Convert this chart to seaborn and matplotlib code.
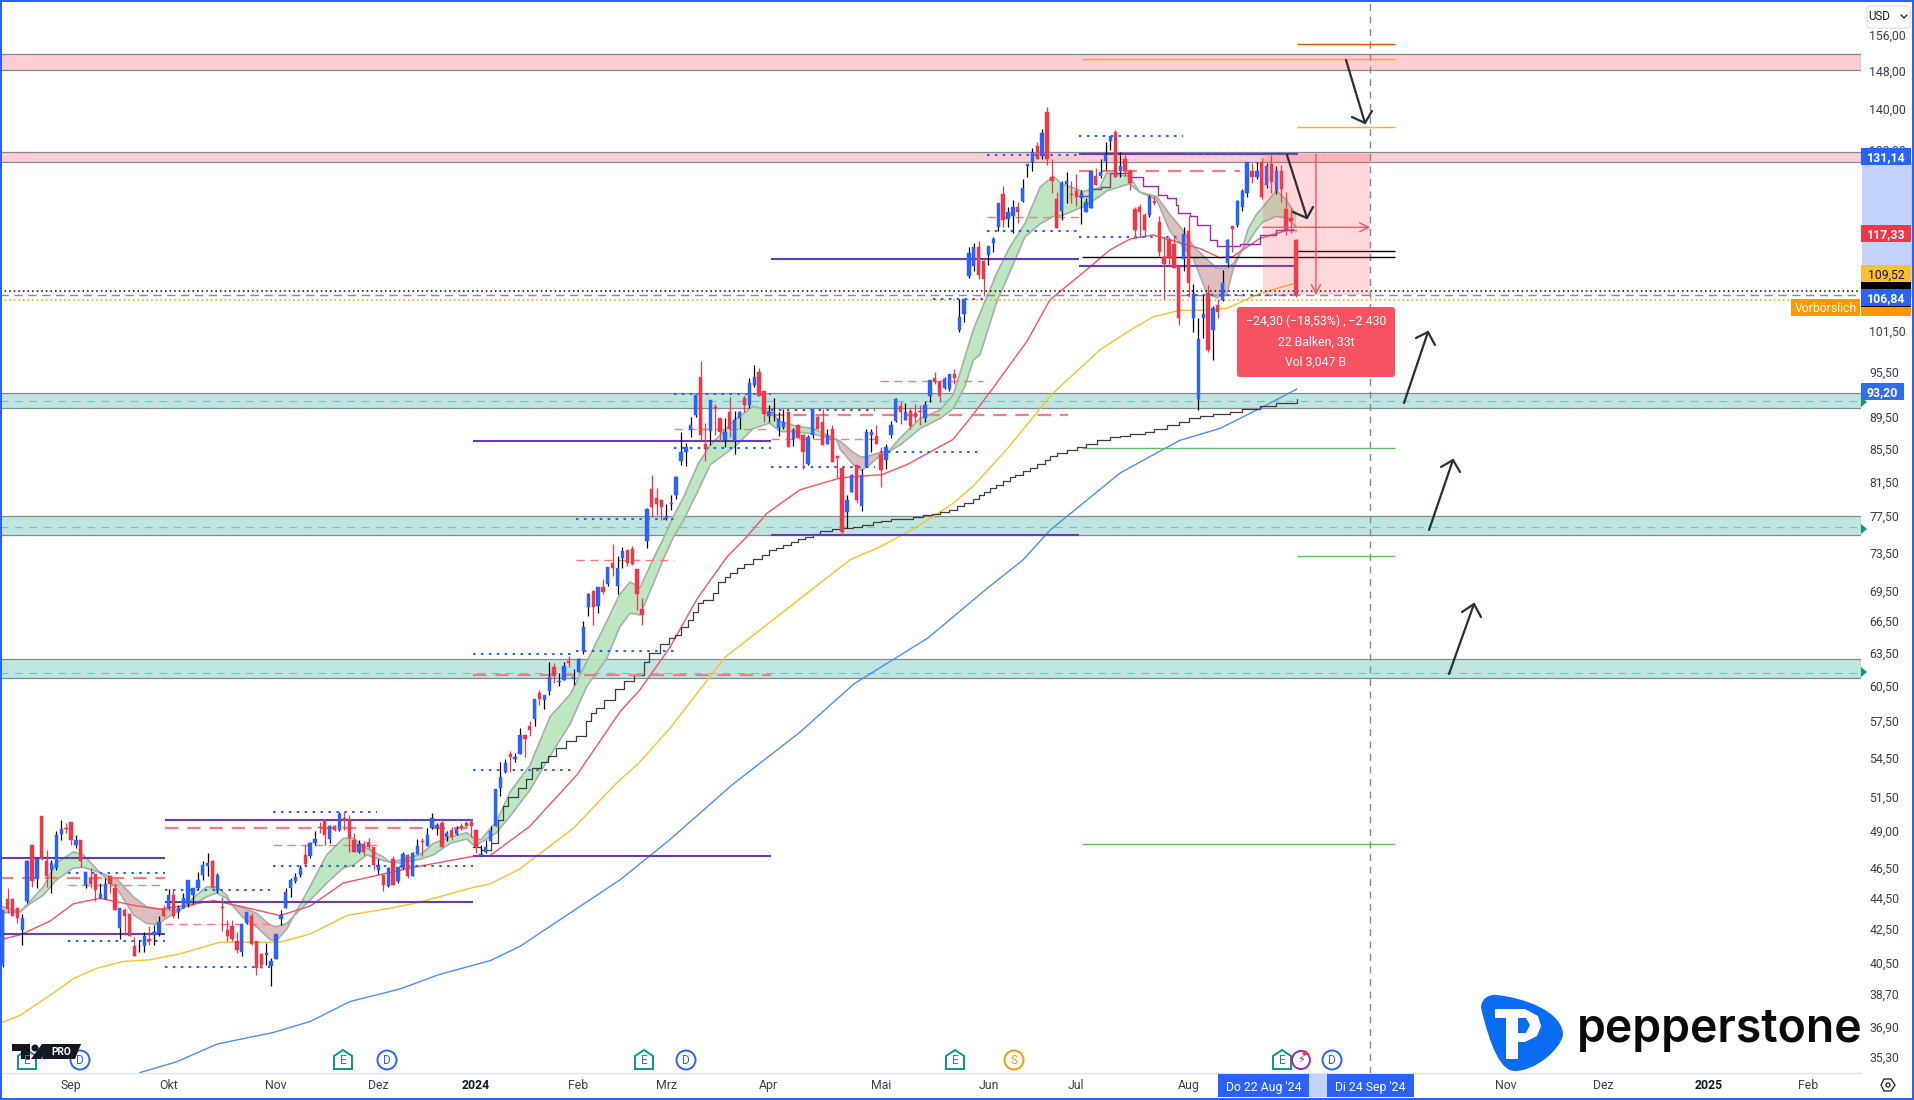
import numpy as np
import pandas as pd
import seaborn as sns
import matplotlib
matplotlib.use('Agg')
import matplotlib.pyplot as plt
from matplotlib.patches import Polygon, Circle, Rectangle, FancyBboxPatch, PathPatch
from matplotlib.path import Path

# candles, one value per trading day
opens = [40.35,44.4,44.4,43.85,42.45,44.3,48.05,45.7,50.1,46.9,
    46.3,46.45,48.8,49.2,49.65,48.05,48.35,45.3,45.75,46.05,
    44.5,44.4,45.9,45.15,42.6,43.7,43.45,41.45,41.45,41.45,
    41.9,42.15,42.25,43.75,43.8,44.65,43.55,43.85,44.1,44.65,
    45.1,46,46.6,46.9,44.9,43.9,42.45,42.7,41.8,41.1,
    42.9,43.3,41.75,41,40.95,40.3,40.7,43.15,43.8,45.1,
    45.55,45.95,47.35,47.3,48.15,49.3,49.8,48.45,49.4,49.1,
    49.95,49.8,48.35,47.55,48.1,48.25,47.9,46.3,45.95,45.25,
    47.05,45.55,46.45,47.35,45.9,47.4,48.3,47.95,49.2,49.25,
    49.6,48.6,49.1,48.8,49.35,49.6,49.7,49.1,47.3,47.55,
    48.3,49.35,52.2,53.4,54.8,54.45,54.8,56.4,57.1,57.7,
    59.9,59.3,60.1,62.2,60.9,61.05,62.8,61.2,61.8,63.7,
    67.9,69.5,68,69.9,70.2,72.4,70,72.9,73.7,73.9,
    71.7,67.7,74.75,80.6,79.5,79.3,77.3,78.9,79.9,83.9,
    85,87.75,89.75,94.9,86.1,87.7,90.75,89.3,86.6,90.2,
    86.4,89.4,92,91.1,93.7,95.5,92.9,89.6,90,88.1,
    88.2,90.2,86.7,88.5,87.2,83.6,87.2,89.5,88.9,86.1,
    88,84.6,83.1,77.9,80.2,83.4,78.6,83.2,87.2,87.1,
    84.8,84.1,87.2,89,90.9,89.1,90.3,90,90.3,89.4,
    92.2,94.7,94.2,93.3,93.2,95.3,101.6,104,109.9,111.4,
    114.5,112.3,113.2,115.2,118,123.8,119.3,119.9,121.4,122.5,
    128.9,129.6,132.7,130.7,139.4,126.8,122.8,120.8,125.6,123.8,
    124.3,123.1,120.6,121.2,127,127,129.9,133.6,135.4,127.9,
    130.2,128,121.1,121.4,120,120,122.5,118.8,112.9,115.9,
    115.1,111.5,112.6,117.3,103.4,91.8,103.4,107.2,101.6,105.3,
    106.1,111.9,118.2,118.3,121.5,123.9,128,126.9,129.6,125.4,
    129.2,124.5,127.9,121.1,119.5,115.8]
highs = [43.7,45.1,44.5,43.9,43.45,47,48.05,47.1,50.1,47.7,
    47,49,49.8,49.6,49.65,48.75,48.35,46.2,46.45,46.05,
    45.45,45.75,45.9,45.45,43.8,43.8,43.5,42,41.85,42.35,
    42.7,42.75,43.35,44,45.05,45,44,44.8,45.65,45.15,
    46.15,46.9,47.45,47,46.1,44.55,43.1,43.1,42.35,42.85,
    43.6,43.5,41.75,41.05,41.65,40.75,42.2,43.7,45.15,45.75,
    46.1,46.65,48.05,48.25,49,49.7,49.8,49.45,49.45,50.4,
    50.4,50.2,48.85,48.35,48.3,48.55,47.9,47.05,46,46.5,
    47.25,46.5,47.55,47.4,47.55,48.45,48.5,49.2,50.3,49.6,
    49.85,49,49.3,49.4,49.6,49.75,49.85,49.15,48.05,48.4,
    49.35,52.1,54.2,54.4,55.1,54.9,56.9,56.4,57.5,59.4,
    60.2,59.75,62.66,62.6,61.7,62.7,63.2,62,63,66.5,
    69.3,69.6,69.9,70.7,72,74.4,73.1,74.1,73.8,74.2,
    71.7,68.8,78.4,82.2,80.7,79.4,78.9,79.9,82.1,87.5,
    86.15,89.55,92.5,97.1,88.7,91.7,91.15,89.3,89.3,92.1,
    90.3,90.3,92.4,94.7,96.5,96.1,92.9,91.1,92,90.1,
    90.5,90.3,88.1,88.6,87.3,87.2,90.5,89.7,90.5,88,
    88.4,84.6,83.1,79.9,82.4,83.5,83,88,87.9,88.5,
    85.7,86.1,89,92,91.6,91.3,90.6,91.2,91.1,91.6,
    94.5,95.5,94.5,94.9,95.2,95.9,106.2,106.2,114.5,115.2,
    115.6,112.4,114.8,116.3,122.2,125.2,121.5,122.7,122.4,126.5,
    129.3,132.4,133.4,136,140.4,130.2,124.2,126.2,127.8,126.2,
    127.4,124.5,123.1,128,128.5,130.3,133.4,134.6,135.8,131.6,
    130.9,128.4,121.4,122,120.3,123.6,123.4,119.8,116.5,116.3,
    116.6,111.6,118,119.8,108.6,103.3,106.9,108.4,105.2,106.2,
    110.8,115.9,118.2,122.7,124.6,129.6,129.4,129.7,130.4,129.4,
    131,128.9,129,124.2,121.2,116]
lows = [40.25,43.5,43.3,42.9,41.55,44.15,45.2,45.1,47,45.2,
    44.8,46.3,48.35,48.85,48.05,47.8,46.5,45.1,45.15,44.25,
    44.45,44.4,44.8,43.7,41.9,42.15,42.1,40.85,41.1,41.1,
    41.55,41.55,42.05,43.25,43.75,43.2,43.2,43.8,43.9,44.1,
    45.05,45.65,45.9,45.1,44.8,42.4,41.75,41.75,41.05,40.85,
    42.85,41.55,39.75,40.15,40.35,39.15,40.7,42.75,43.8,44.55,
    45.45,45.85,46.65,47.1,48.05,48.85,48.05,48.15,49,49,
    49.1,47.55,47.55,47.5,47.35,47.75,46.3,46.05,44.9,45.2,
    45.3,45.45,46.4,45.75,45.9,47.4,47.3,47.95,49.15,48.75,
    47.9,48.3,48.35,48.75,49.1,49.3,48.6,47.5,47.3,47.45,
    48.25,49.35,51.6,53.35,53.4,54.2,54.8,54.6,56.3,57.1,
    58.9,58.5,59.75,60.8,60.5,61.05,62.2,60.6,61.75,63.4,
    67,66.15,67.3,69.2,70,71,69.2,71.8,72.1,72.2,
    67.6,66.1,74,77.4,77.6,77,77,78.2,79.4,83.5,
    83.3,86.9,89.45,86.6,84,85.9,87.2,86.4,85.7,86.9,
    84.8,88,90.2,90.6,93.5,92.2,88.9,88.9,89,87,
    88,85.7,85.8,86.8,83,83.4,86.8,87.9,85.9,86,
    83.8,81.9,75.4,76.1,80.2,79,78.1,83.2,85.1,86.1,
    80.8,83,86.8,88.9,88.6,89.1,88,88.9,88.5,88.9,
    91.4,93.9,91.5,93.2,93,93.9,101.3,102.8,109.6,110.7,
    109.3,106.7,111.6,113.8,117.2,118,117.9,116.9,118.6,122.4,
    126.9,128,130.3,130.3,129.1,124,117.7,119.1,122.2,122.1,
    121.6,118.5,120.6,121.2,125.4,126.6,128.2,132,126.8,126.9,
    127,124.4,116.3,116.3,116.3,119.6,121.8,113.1,106.2,111.3,
    111.1,102.3,110.7,106.6,101.2,90.4,100.4,98.4,97.2,103.3,
    106,111.3,113.8,118,120.8,123.2,125.7,126.4,122.9,124.8,
    124,123.7,122.4,116.6,117,106.5]
closes = [43.7,43.75,43.35,43.2,43.2,46.9,45.55,47.05,47.05,45.9,
    46.8,48.7,49.15,49.15,48.35,48.4,46.9,46.15,45.4,45,
    44.75,45.4,45.4,43.7,43.8,43.35,42.1,40.85,41.5,42.05,
    41.75,42.3,42.95,43.3,44.65,43.35,43.85,44.5,45.65,45.1,
    45.65,46.65,46.8,45.15,46,43.85,42.05,41.9,41.25,42.85,
    43.55,41.6,40.15,40.35,41.05,40.6,42.2,43.4,44.85,45.65,
    45.85,46.45,46.7,48.15,48.45,49.2,48.7,49.35,49.1,50.25,
    49.8,48.5,47.55,48.1,47.55,47.9,46.65,46.65,45.3,46.45,
    45.3,46.5,47.4,45.9,47.5,47.95,48.25,48.75,49.95,49.45,
    47.9,48.9,48.6,49.15,49.2,49.35,49.35,47.9,47.4,47.9,
    49,52.1,53.05,54.15,54.6,54.55,56.4,56,56.8,59.4,
    59.4,59.75,61.3,61.4,61,62.3,62.6,61.35,62.9,65.9,
    69.2,67.9,69.9,69.35,72,71.9,71.9,73.6,72.4,72.3,
    69.2,67.1,78.3,78.5,78.8,78.5,77.5,79,82,85.1,
    85.65,88.5,92.4,87.2,85.4,91.7,90.5,87.6,87.5,88,
    89.1,90.2,91.1,94,94.8,92.2,89.9,90.2,90.2,89.2,
    88.8,85.7,87.8,86.8,85.1,86.9,90.5,88,85.9,87.2,
    83.8,84.3,75.75,79.3,82.2,79.3,82.2,87.5,87.6,86.1,
    82.8,85.7,88.4,91.9,90.2,90.2,88.3,89.5,90.2,91.1,
    94.4,94.1,92.2,94.6,95.2,94.7,103.5,106.2,113.5,114.5,
    110,109.3,114.8,116,122.1,119.1,120.5,121.4,120.5,124.8,
    129.3,131.6,130.3,135.2,130.3,126.2,117.7,125.7,126.1,123.6,
    123.2,123.9,122.3,127.9,125.4,127.7,131,134.6,126.8,128.9,
    127.9,125.8,117.5,120.6,117.5,123.2,122.2,113.7,111.8,112.7,
    111.1,103.4,116.7,108.8,107,100.3,104,98.6,104.8,104.3,
    108.7,115.8,117.6,122.5,124.3,129.6,126.8,128,123.2,128.9,
    126,128,124.6,117.4,119,106.84]

# moving averages, read at a few bars
red_x = [-0.5,3.6,9.7,14.5,19.9,26.8,32.2,37.7,43.2,48.6,56.8,63,69.8,76.6,84.2,96.4,99.9,108,117.7,126.5,130.6,136.7,142.3,148.4,152.5,156.6,163.4,171.6,180.2,185.3,194.7,198.8,202.9,209.9,214.6,222.2,226.9,231,235.7,241.2,245.4,249.4,252.1,257.6,263.2,265.2]
red_y = [41.85,42.15,43,44.1,44.45,44,43.75,44,44.3,43.95,43.35,43.95,45.45,45.95,46.5,47.25,47.3,49.35,53.2,58.3,60.2,64,68.7,73,75.2,77.8,80.5,81.9,82.3,83.5,86.6,89.75,93.3,99.9,106.1,110.9,114.1,115.9,116.6,115.3,114.3,112.8,113,116,117.4,117.33]
orange_x = [-0.5,3.6,9.7,14.5,19.3,24.7,30.2,36.3,44.5,56.8,63,70.5,80,84.8,96.4,99.9,106,108,116.9,125.9,130.6,136.7,148,173.6,179.8,187.4,194.7,198.8,205.8,215,224.9,231,235.7,241.2,246.8,250.9,257.6,264.4,265.2]
orange_y = [37.07,37.5,38.6,39.55,40.15,40.55,40.65,41,41.7,41.7,42.2,43.35,43.85,44.15,45.15,45.4,46.4,46.9,49.2,52.6,54.2,56.9,63.1,72.7,74.1,76.3,78.9,80.9,85.4,92.5,98.7,101.5,103.5,104.5,104.5,104.8,107.1,108.6,108.8]
blue_x = [28.1,35.7,43.9,55.4,63,71.2,81.4,89.6,99.9,106,126.5,136.7,149.4,163.4,174.4,189.6,202.1,209.1,214.6,229,241.2,249.4,257.6,265.2]
blue_y = [34.5,35.05,35.96,36.57,37.16,38.26,38.96,39.8,40.6,41.45,45.66,48.4,52.4,56.6,60.7,64.9,69.9,72.7,75.9,82.5,86.5,88,90.6,93.2]
stair_x = [96.4,98,100,101.5,102.5,103.6,105.6,107.3,108.4,110.4,111.7,113.4,115.5,117.5,119.5,120.6,121.6,123.3,125.4,127.4,129.4,131.5,132.5,134.6,136.6,137.8,139,140.5,141.5,142.5,143.5,145.6,146.6,148,149,150.5,152,153.8,155.5,157,158.5,160,161.5,163,164.5,166,167.5,170,172,174.3,176,178.4,180,182,184,186.5,188.5,190.5,192.1,194,195.5,197,198.9,200,201,202.3,203.5,205,206.4,207.5,209,210.5,212,213.5,214.6,216,218,220.1,222,224.3,227,229,231,234,236,238.6,241,243,245.4,248,251.5,254,257.7,261,265.2]
stair_y = [47.9,47.7,48.2,49.8,50.8,51.5,52.2,52.9,53.7,54.2,54.7,55.3,55.9,56.3,57.5,58.2,58.6,59.3,60.3,61,61.5,62.7,63.5,64.3,64.9,65.2,65.9,66.6,67.4,68.3,68.6,69.3,70.4,70.9,71.3,71.8,72.3,72.8,73.2,73.7,74,74.3,74.6,74.9,75.2,75.5,75.8,76,76.2,76.3,76.5,76.8,76.9,77.1,77.2,77.4,77.6,77.7,77.9,78.2,78.6,79,79.4,79.9,80.3,80.7,81.1,81.5,82,82.3,82.7,83.1,83.6,84.1,84.5,84.9,85.3,85.7,86.1,86.6,86.9,87.1,87.3,87.5,87.9,88.5,88.9,89.3,89.6,89.9,90.2,90.5,90.9,91.3,91.9]
step_x = [220.5,222.8,225,226.9,231.3,233.7,236.8,238.5,240.5,240.9,243.3,244.7,247.4,248.8,250.8,253.6,257.6,261,264.5]
step_y = [123.4,124.7,125,127.6,126.9,125.2,123.6,123,121.8,120.3,119.8,118.3,115.8,114.8,114.8,115.1,116.6,117.4,117.6]

# fast / slow ribbon
band_x = [-0.5,3.6,5.6,8.3,11,14.5,16.5,19.9,23.4,26.8,29.5,31.6,35,37.4,39,41.8,43.9,45.9,46.9,49.3,52,54.8,56.1,58.2,59.6,60.9,63.7,66.4,69.8,71.9,74.6,78,79.4,81.4,85.5,88.3,91.7,95.1,96.4,98,101.2,104,108,112.2,116.3,119.7,123.8,126.5,128.6,130.6,133.3,135.4,137.4,139.5,142.5,145,150,153.8,157.2,159.3,162.7,166,170.9,171.6,174.3,176,177.7,179.8,181.5,183.9,188,192.1,194.8,197.2,198.9,200.3,203.7,206.4,209.5,212.6,215.3,217,221.4,224.8,226.2,230.9,233,236.5,239.2,241.3,244,246.7,248.8,250.9,252.2,254,255.2,256.9,258.2,261,263,265]
fast = [43.5,43.6,44.25,45.2,46.8,47.55,47.35,46.15,45.1,43.4,42.85,42.8,43.45,43.9,44.45,45.2,45.2,44.65,44.05,43.2,42.65,41.85,41.8,42.5,43.3,44,45.65,47.35,48.5,48.5,47.8,47.2,46.85,47,47.35,48.15,48.6,48.9,48.55,48.4,49.7,51.9,53.9,57.9,59.8,62.7,66.5,69.2,70.4,69.8,72.8,75,77.4,79.6,83.6,85.9,89.1,90.9,90.2,88.9,88.3,88,86.6,85.4,83.5,82.8,83.5,84.6,85.1,86.8,89.3,90.4,92.4,97.7,101.6,104.1,110.3,114.6,118.6,125,127,125.6,124.2,124.9,127.6,127,124.1,122.7,117.2,115.2,112.6,107.2,106.4,107.2,111.1,114.2,117.6,120.1,121.4,124.4,122.7,120.1]
slow = [43.95,43.6,44.1,44.65,45.65,46.45,46.5,46.15,45.7,44.55,43.9,43.8,43.65,43.9,44,44.55,44.8,44.45,44.05,43.85,43.5,42.75,42.65,42.85,43.3,43.7,44.55,45.45,46.45,46.65,47.35,46.95,46.85,46.8,47.05,47.35,48.15,48.45,48.05,48.2,48.9,50.1,52,54.7,57.3,60.5,63,66,67.3,67.1,70.2,72.8,75.1,77,80.4,83.5,85.7,88,88.7,87.6,87.6,87.3,86.6,86.4,85,84.4,84.6,85,85.1,85.9,88,89.3,90.6,93.6,97.2,98,105.8,110.5,116.3,118.5,119.8,119.9,121.5,123.3,124.3,125.6,124.1,123.3,120.1,118,114.7,112.6,111.1,111.1,111.9,114.2,115.3,117.5,118.8,119.8,119.5,118.1]

# horizontal zones: low, high, dashed middle
pink_low = [148.2, 129.7]
pink_high = [151.7, 131.6]
teal_low = [90.6, 75.4, 61.2]
teal_high = [92.6, 77.5, 62.95]
teal_mid = [91.6, 76.3, 61.7]

# level lines: price, first bar, last bar
purple_levels = [47.1,42.2,49.8,44.2,47.3,86.4,112.6,75.4,111.4,131.1]
purple_from = [-0.6,-0.6,33.3,33.3,96.4,96.4,157.4,157.4,220.5,220.5]
purple_to = [33.3,33.3,96.4,96.4,157.4,157.4,220.5,220.5,265.4,265.4]
dotted_levels = [46.1,41.8,45,40.2,50.4,46.6,49.8,63.4,53.6,63.7,77.2,92.5,85.6,90.4,83.2,85,106.3,130.9,117.3,134.7,116.3,131.1,106.8]
dotted_from = [13.4,13.4,33.3,33.3,55.4,55.4,76.7,96.4,96.4,117.5,117.5,137.6,137.6,157.4,157.4,179.8,190.6,201.7,201.7,220.5,220.5,242.7,242.7]
dotted_to = [33.3,33.3,54.8,54.8,76.7,96.4,96.4,117.5,117.5,137.6,137.6,157.4,157.4,178.7,178.7,200.9,200.9,220.5,220.5,241.9,241.9,265.4,264.4]
thin_dash_levels = [45.3,42.8,48,72.7,88,86.7,94.3,119.7]
thin_dash_from = [13.4,33.3,55.4,117.5,137.6,157.4,179.8,201.7]
thin_dash_to = [33.3,54.8,76.7,137.6,157.4,178.7,200.9,220.5]
thick_dash_levels = [45.8,49.2,61.5,89.8,128]
thick_dash_from = [-0.6,33.3,96.4,157.4,220.5]
thick_dash_to = [33.3,96.4,157.4,218.3,253.6]
target_levels = [154,150.6,136.4,85.6,73.1,48.1,113,113.9]
target_from = [265.2,221.2,265.2,221.2,265.2,221.2,221.2,265.2]
target_to = [285.3,285.3,285.3,285.3,285.3,285.3,285.3,285.3]
target_colors = ['#e65100','#ffa726','#ffa726','#66bb6a','#66bb6a','#66bb6a','#000000','#000000']

price_ticks = [156,148,140,132,124,117.5,111.5,106,101.5,95.5,89.5,85.5,81.5,77.5,73.5,69.5,66.5,63.5,60.5,57.5,54.5,51.5,49,46.5,44.5,42.5,40.5,38.7,36.9,35.3]
month_ticks = [14,34,56,77,97,118,136,157,180,202,220,243,308,328,349.5,370]
month_labels = ['Sep','Okt','Nov','Dez','2024','Feb','Mrz','Apr','Mai','Jun','Jul','Aug','Nov','Dez','2025','Feb']

BLUE = '#2962ff'
RED = '#f23645'
FONT = 'Roboto'

sns.set_theme(style='white')
plt.rcParams['font.family'] = [FONT, 'DejaVu Sans']

fig = plt.figure(figsize=(19.14, 11), dpi=100)
ax = fig.add_axes([0, 27 / 1100, 1861 / 1914, 1071 / 1100])
ax.set_yscale('log')

# zones
for lo, hi in zip(pink_low, pink_high):
    ax.axhspan(lo, hi, facecolor='#ffcdd2', edgecolor='#868993', lw=0.9, zorder=1)
for lo, hi, mid in zip(teal_low, teal_high, teal_mid):
    ax.axhspan(lo, hi, facecolor='#bfe6de', edgecolor='#868993', lw=0.9, zorder=1)
    ax.axhline(mid, color='#5ccdd0', lw=0.8, ls=(0, (7, 6)), zorder=1.2)

# ribbon
fast_a, slow_a, band_a = np.array(fast), np.array(slow), np.array(band_x)
ax.fill_between(band_a, fast_a, slow_a, where=fast_a >= slow_a, interpolate=True, color='#b5e5bb', alpha=0.9, lw=0, zorder=2)
ax.fill_between(band_a, fast_a, slow_a, where=fast_a <= slow_a, interpolate=True, color='#d3a9a9', alpha=0.75, lw=0, zorder=2)
sns.lineplot(x=band_x, y=fast, color='#a8aeaa', lw=1.2, ax=ax, sort=False, estimator=None, errorbar=None, zorder=2.1)
sns.lineplot(x=band_x, y=slow, color='#a8aeaa', lw=1.2, ax=ax, sort=False, estimator=None, errorbar=None, zorder=2.1)

# averages
sns.lineplot(x=red_x, y=red_y, color='#f7525f', lw=1, ax=ax, sort=False, estimator=None, errorbar=None, zorder=3)
sns.lineplot(x=orange_x, y=orange_y, color='#fbc02d', lw=1, ax=ax, sort=False, estimator=None, errorbar=None, zorder=3)
sns.lineplot(x=blue_x, y=blue_y, color='#4f8df7', lw=1, ax=ax, sort=False, estimator=None, errorbar=None, zorder=3)
sns.lineplot(x=stair_x, y=stair_y, color='#3d3d3d', lw=0.9, ax=ax, sort=False, estimator=None, errorbar=None, zorder=3, drawstyle='steps-post')
sns.lineplot(x=step_x, y=step_y, color='#9c27b0', lw=1, ax=ax, sort=False, estimator=None, errorbar=None, zorder=3, drawstyle='steps-post')

# level lines
ax.hlines(purple_levels, purple_from, purple_to, color='#673ab7', lw=1.5, zorder=3.5)
ax.hlines(thin_dash_levels, thin_dash_from, thin_dash_to, color='#f77c80', lw=1, ls=(0, (6, 4)), zorder=3.5)
ax.hlines(thick_dash_levels, thick_dash_from, thick_dash_to, color='#f77c80', lw=1.6, ls=(0, (6, 4)), zorder=3.5)
ax.hlines(dotted_levels, dotted_from, dotted_to, color=BLUE, lw=1.5, ls=(0, (1.2, 2.6)), zorder=3.6)
ax.hlines(target_levels, target_from, target_to, colors=target_colors, lw=1, zorder=3.5)

# candles
bar_x = np.arange(len(opens))
o, h, l, c = map(np.array, (opens, highs, lows, closes))
up = c >= o
ax.vlines(bar_x, l, h, colors=np.where(up, '#000000', RED), lw=0.9, zorder=4)
ax.bar(bar_x, np.abs(c - o), bottom=np.minimum(o, c), width=0.68, color=np.where(up, BLUE, RED).tolist(), edgecolor=np.where(up, BLUE, RED).tolist(), lw=0.3, zorder=4.1)

# price lines across the chart
ax.axhline(107.4, color='#000000', lw=1.1, ls=(0, (1, 2)), zorder=3.4)
ax.axhline(106.84, color='#868993', lw=1, ls=(0, (6, 4)), zorder=3.4)
ax.hlines(106.1, -0.6, 366.4, color='#ff9800', lw=1.1, ls=(0, (1, 2)), zorder=3.4)
ax.axvline(280.2, color='#868993', lw=1, ls=(0, (5, 4)), zorder=3.4)

# measure tool
ax.fill_between([258.2, 280.2], 106.84, 131.14, color='#f7525f', alpha=0.22, lw=0, zorder=5)
ax.annotate('', xy=(269.1, 106.84), xytext=(269.1, 131.14), arrowprops=dict(arrowstyle='->', color='#f7525f', lw=1, mutation_scale=16, shrinkA=0, shrinkB=0), zorder=5.1)
ax.annotate('', xy=(280.2, 117.9), xytext=(258.2, 117.9), arrowprops=dict(arrowstyle='->', color='#f7525f', lw=1, mutation_scale=16, shrinkA=0, shrinkB=0), zorder=5.1)

ax.set_xlim(-0.55, 380.8)
ax.set_ylim(34.48, 163.6)
ax.set_xlabel('')
ax.set_ylabel('')
ax.yaxis.tick_right()
ax.minorticks_off()
ax.set_yticks(price_ticks)
ax.set_yticklabels([f'{v:.2f}'.replace('.', ',') for v in price_ticks], fontsize=8.8, color='#3a3e4a')
ax.yaxis.set_minor_locator(matplotlib.ticker.NullLocator())
ax.set_xticks(month_ticks)
ax.set_xticklabels(month_labels, fontsize=8.8, color='#3a3e4a')
for lab in ax.get_xticklabels():
    if lab.get_text().startswith('20'):
        lab.set_fontweight('bold')
        lab.set_color('#131722')
ax.tick_params(axis='both', length=0)
ax.tick_params(axis='y', pad=6)
ax.tick_params(axis='x', pad=4.5)
for side in ['top', 'right', 'left']:
    ax.spines[side].set_visible(False)
ax.spines['bottom'].set_color('#e0e3eb')
ax.spines['bottom'].set_linewidth(1)

# overlay in image pixels for the platform chrome
ov = fig.add_axes([0, 0, 1, 1], facecolor='none', zorder=10)
ov.set_xlim(0, 1914)
ov.set_ylim(1100, 0)
ov.axis('off')


def badge(x0, x1, y0, y1, color, text, tc='white', weight='bold'):
    ov.add_patch(Rectangle((x0, y0), x1 - x0, y1 - y0, facecolor=color, lw=0))
    if text:
        ov.text((x0 + x1) / 2, (y0 + y1) / 2, text, color=tc, fontsize=8.8, fontweight=weight, ha='center', va='center_baseline')


def arrow(x0, y0, x1, y1, hx0, hy0, hx1, hy1):
    ov.plot([x0, x1], [y0, y1], color='#2a2e39', lw=1.6, solid_capstyle='round')
    ov.plot([hx0, x1, hx1], [hy0, y1, hy1], color='#2a2e39', lw=1.6, solid_capstyle='round')


def icon_e(cx):
    ov.add_patch(Polygon([(cx - 9, 1056), (cx, 1050), (cx + 9, 1056), (cx + 9, 1069), (cx - 9, 1069)], closed=True, fc='white', ec='#089981', lw=1.4))
    ov.text(cx, 1061, 'E', color='#089981', fontsize=8.5, ha='center', va='center')


def icon_circle(cx, letter, color):
    ov.add_patch(Circle((cx, 1060), 9.5, fc='white', ec=color, lw=1.4))
    ov.text(cx, 1060, letter, color=color, fontsize=8.5, ha='center', va='center')


# axis highlights
ov.add_patch(Rectangle((1862, 162), 50, 135, fc='#c3d3fb', lw=0))
ov.add_patch(Rectangle((1263, 1074), 108, 23, fc='#c3d3fb', lw=0))

badge(1861, 1911, 148, 165, BLUE, '131,14')
badge(1861, 1911, 225, 242, RED, '117,33')
badge(1861, 1911, 305, 316, '#ff9800', '')
badge(1861, 1911, 282, 290, '#000000', '')
badge(1861, 1911, 306, 307, '#000000', '')
badge(1861, 1911, 265, 282, '#fbc02d', '109,52', tc='#131722', weight='normal')
badge(1861, 1911, 289, 306, BLUE, '106,84')
badge(1791, 1860, 299, 316, '#ff9800', 'Vorbörslich', weight='normal')
badge(1861, 1904, 383, 400, '#2f6fed', '93,20')
for ty in [402, 529, 672]:
    ov.add_patch(Polygon([(1861, ty - 5), (1867, ty), (1861, ty + 5)], closed=True, fc='#089981', lw=0))

# USD box
ov.add_patch(FancyBboxPatch((1867, 6), 43, 22, boxstyle='round,pad=0,rounding_size=3', fc='white', ec='#e0e3eb', lw=1))
ov.text(1879, 16.5, 'USD', fontsize=8.3, color='#131722', ha='center', va='center')
ov.plot([1901, 1904, 1907], [15, 18, 15], color='#131722', lw=0.9)

# date badges
badge(1218, 1309, 1074, 1097, BLUE, "Do 22 Aug '24", weight='normal')
badge(1327, 1414, 1074, 1097, BLUE, "Di 24 Sep '24", weight='normal')

# measure tooltip
ov.add_patch(FancyBboxPatch((1237, 307), 158, 70, boxstyle='round,pad=0,rounding_size=3', fc='#f7525f', lw=0))
ov.text(1316, 321, '\u221224,30 (\u221218,53%) , \u22122.430', color='white', fontsize=8.8, ha='center', va='center')
ov.text(1316, 342, '22 Balken, 33t', color='white', fontsize=8.8, ha='center', va='center')
ov.text(1316, 362, 'Vol 3,047 B', color='white', fontsize=8.8, ha='center', va='center')

# drawn arrows
arrow(1346, 60, 1365, 123, 1352, 117, 1372, 111)
arrow(1287, 155, 1307, 218, 1293, 212, 1313, 207)
arrow(1404, 403, 1428, 332, 1416, 338, 1435, 345)
arrow(1429, 530, 1453, 460, 1441, 467, 1460, 472)
arrow(1449, 674, 1474, 604, 1462, 612, 1481, 617)

# event icons
for cx in [27, 343, 644, 955, 1282]:
    icon_e(cx)
for cx in [80, 387, 686, 1332]:
    icon_circle(cx, 'D', BLUE)
icon_circle(1014, 'S', '#ff9800')
ov.add_patch(Circle((1301, 1060), 9, fc='white', ec='#9c27b0', lw=1.4))
ov.text(1301, 1060, '\u26a1', fontsize=8, color='#9c27b0', ha='center', va='center', family=['DejaVu Sans'])
ov.add_patch(Circle((1305, 1053), 2.5, fc=RED, lw=0))

# TV logo
ov.add_patch(Polygon([(12, 1044), (30, 1044), (30, 1059), (21, 1059), (21, 1051), (12, 1051)], closed=True, fc='#131722', lw=0))
ov.add_patch(Circle((35, 1048), 3.5, fc='#131722', lw=0))
ov.add_patch(Polygon([(42, 1044), (52, 1044), (41, 1059), (31, 1059)], closed=True, fc='#131722', lw=0))
ov.add_patch(Polygon([(48, 1044), (81, 1044), (75, 1059), (42, 1059)], closed=True, fc='#131722', lw=0))
ov.text(61, 1052, 'PRO', color='white', fontsize=7.2, fontweight='bold', ha='center', va='center')

# pepperstone logo
verts = [(1481, 1008), (1481, 998), (1490, 994), (1497, 995), (1525, 998), (1563, 1012), (1563, 1035),
         (1560, 1050), (1535, 1071), (1515, 1071), (1500, 1071), (1490, 1045), (1481, 1008)]
codes = [Path.MOVETO] + [Path.CURVE4] * 12
ov.add_patch(PathPatch(Path(verts, codes), fc='#0a6cf1', lw=0))
ov.add_patch(Polygon([(1495, 1009), (1525, 1009), (1538, 1016), (1541, 1026), (1537, 1036), (1525, 1042), (1518, 1042), (1518, 1059), (1506, 1059), (1506, 1018), (1495, 1018)], closed=True, fc='white', lw=0))
ov.add_patch(Polygon([(1518, 1018), (1526, 1018), (1530, 1025), (1526, 1033), (1518, 1033)], closed=True, fc='#0a6cf1', lw=0))
ov.text(1577, 1030, 'pepperstone', color='#0b0b0b', fontsize=33.4, fontweight='semibold', family=['Inter', 'DejaVu Sans'], ha='left', va='center')

# settings icon
ov.add_patch(Polygon([(1881, 1085), (1884, 1079), (1891, 1079), (1895, 1085), (1891, 1091), (1884, 1091)], closed=True, fc='white', ec='#131722', lw=0.9))
ov.add_patch(Circle((1888, 1085), 2, fc='white', ec='#131722', lw=0.9))

# window border
ov.add_patch(Rectangle((0, 0), 1914, 2, fc=BLUE, lw=0))
ov.add_patch(Rectangle((0, 0), 2, 1100, fc=BLUE, lw=0))
ov.add_patch(Rectangle((1912, 0), 2, 1100, fc=BLUE, lw=0))
ov.add_patch(Rectangle((0, 1098), 1914, 2, fc=BLUE, lw=0))

fig.savefig('out.png', dpi=100)
